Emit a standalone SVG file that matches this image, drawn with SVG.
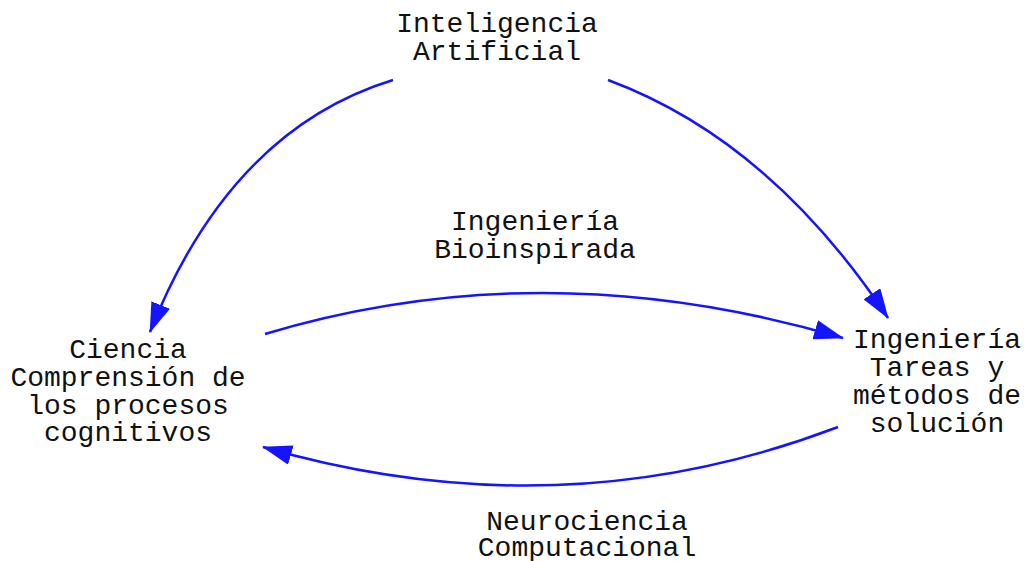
<svg xmlns="http://www.w3.org/2000/svg" width="1024" height="561" viewBox="0 0 1024 561">
<style>
text{font-family:"Liberation Mono","Courier New",monospace;font-size:28px;fill:#111;text-anchor:middle}
.c{fill:none;stroke:#1414ff;stroke-width:2.5;marker-end:url(#ah)}
</style>
<defs>
<marker id="ah" markerUnits="userSpaceOnUse" markerWidth="30" markerHeight="20" refX="29" refY="10" orient="auto">
<path d="M0,0 L30,10 L0,20 z" fill="#1414ff"/>
</marker>
</defs>
<rect width="1024" height="561" fill="#fff"/>
<g id="connectors">
<path class="c" d="M393,80 Q230,130 150,332"/>
<path class="c" d="M608,80 Q770,140 888,318"/>
<path class="c" d="M265,334 Q545,250 843,338"/>
<path class="c" d="M838,427 Q560,533 263,447"/>
</g>
<g id="ia"><text x="497" y="32">Inteligencia</text><text x="497" y="60">Artificial</text></g>
<g id="ciencia"><text x="128" y="358">Ciencia</text><text x="128" y="386">Comprensión de</text><text x="128" y="414">los procesos</text><text x="128" y="441">cognitivos</text></g>
<g id="ingenieria"><text x="937" y="348">Ingeniería</text><text x="937" y="376">Tareas y</text><text x="937" y="404">métodos de</text><text x="937" y="432">solución</text></g>
<g id="bio"><text x="535" y="230">Ingeniería</text><text x="535" y="258">Bioinspirada</text></g>
<g id="neuro"><text x="587" y="530">Neurociencia</text><text x="587" y="556">Computacional</text></g>
</svg>
